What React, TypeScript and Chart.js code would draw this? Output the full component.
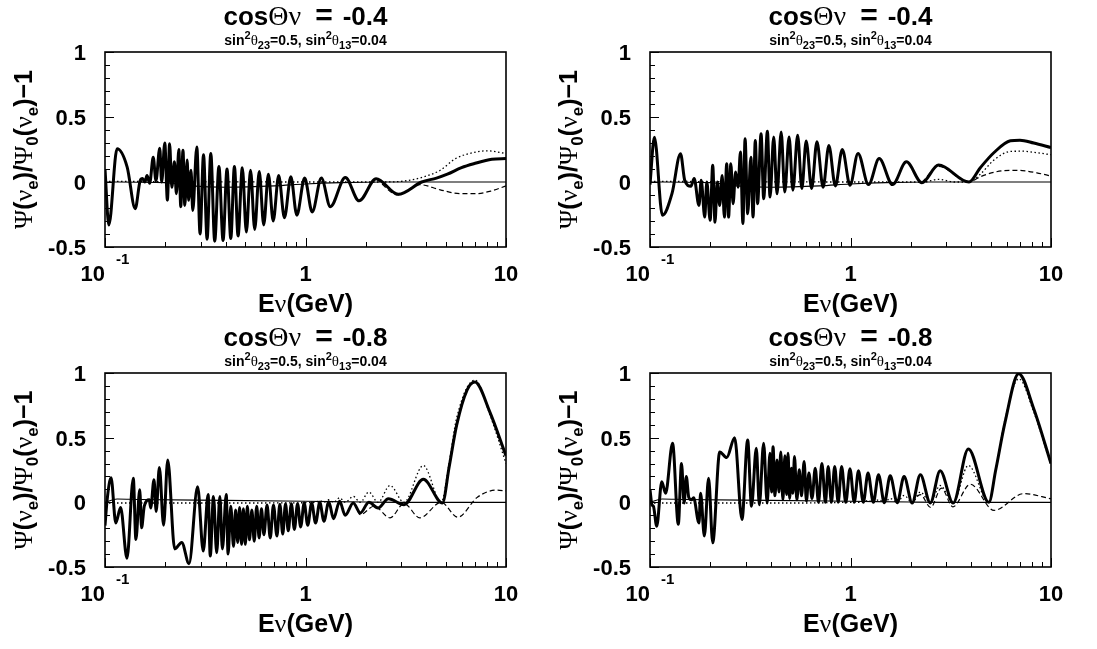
import React, { useEffect, useRef } from "react";
import { Chart, registerables } from "chart.js";

Chart.register(...registerables);

type Pt = [number, number];

// ---------------- data (E in GeV, value of Psi/Psi0 - 1) ----------------
const TITLES = ["-0.4", "-0.4", "-0.8", "-0.8"];
const Y_TICK_VALUES = [-0.5, 0, 0.5, 1];
const Y_TICK_LABELS = ["-0.5", "0", "0.5", "1"];
const X_TICK_VALUES = [0.1, 1, 10];

// top-left panel (cos = -0.4)
const TL_SOLID: Pt[] = [
  [0.1, 0.1], [0.1045, -0.33], [0.1149, 0.256], [0.129, 0.115], [0.1415, -0.205],
  [0.1496, 0.008], [0.154, 0.026], [0.158, 0.0], [0.162, 0.05], [0.167, -0.01],
  [0.174, 0.19], [0.1795, 0.01], [0.1875, 0.26], [0.1917, 0.0], [0.1987, 0.3],
  [0.2047, -0.14], [0.21, 0.295], [0.2154, -0.04], [0.222, 0.155], [0.227, -0.09],
  [0.2335, 0.25], [0.2387, -0.19], [0.2449, 0.245], [0.25, -0.18], [0.257, 0.17],
  [0.261, -0.14], [0.2685, 0.09], [0.274, -0.22], [0.287, 0.27], [0.298, -0.4],
  [0.31, 0.21], [0.323, -0.44], [0.337, 0.22], [0.3525, -0.455], [0.37, 0.12],
  [0.388, -0.45], [0.406, 0.1], [0.424, -0.435], [0.442, 0.12], [0.461, -0.415],
  [0.484, 0.11], [0.507, -0.385], [0.532, 0.09], [0.558, -0.365], [0.588, 0.08],
  [0.619, -0.33], [0.653, 0.06], [0.69, -0.3], [0.735, 0.05], [0.785, -0.275],
  [0.845, 0.04], [0.905, -0.255], [0.99, 0.03], [1.08, -0.23], [1.2, 0.03],
  [1.33, -0.19], [1.58, 0.035], [1.85, -0.145], [2.25, 0.025], [2.9, -0.095],
  [3.8, 0.0], [4.5, 0.03], [5.1, 0.06], [6.0, 0.11], [6.9, 0.14], [8.5, 0.175], [10, 0.18],
];
const TL_DOTTED: Pt[] = [
  [0.1, 0.005], [0.3, 0.002], [1.0, 0.0], [2.5, 0.0], [3.2, 0.01], [3.9, 0.04],
  [4.7, 0.09], [5.6, 0.18], [6.9, 0.227], [8.0, 0.24], [10, 0.22],
];
const TL_DASHED: Pt[] = [
  [2.25, 0.025], [2.9, -0.1], [3.7, -0.02], [4.7, -0.06], [5.9, -0.09], [7.0, -0.09],
  [8.4, -0.07], [10, -0.03],
];

// top-right panel (cos = -0.4)
const TR_SOLID: Pt[] = [
  [0.1, -0.02], [0.1052, 0.345], [0.1153, -0.256], [0.1287, -0.09], [0.142, 0.218],
  [0.149, 0.013], [0.16, -0.033], [0.166, 0.026], [0.1755, -0.18], [0.18, 0.013],
  [0.1875, -0.27], [0.192, 0.0], [0.1995, -0.295], [0.2055, 0.128], [0.211, -0.31],
  [0.2165, 0.0], [0.2227, -0.18], [0.229, 0.05], [0.235, -0.27], [0.2413, 0.14],
  [0.2466, -0.27], [0.253, 0.14], [0.2596, -0.167], [0.2673, 0.077], [0.275, -0.04],
  [0.2825, 0.23], [0.2907, -0.32], [0.298, 0.333], [0.307, -0.245], [0.3185, 0.19],
  [0.3266, -0.27], [0.335, 0.32], [0.344, -0.167], [0.358, 0.372], [0.369, -0.128],
  [0.385, 0.39], [0.397, -0.115], [0.414, 0.346], [0.43, -0.09], [0.451, 0.385],
  [0.47, -0.077], [0.494, 0.346], [0.516, -0.064], [0.545, 0.36], [0.572, -0.05],
  [0.601, 0.315], [0.64, -0.05], [0.68, 0.31], [0.73, -0.04], [0.78, 0.28],
  [0.84, -0.03], [0.91, 0.25], [0.995, -0.025], [1.09, 0.22], [1.23, -0.02],
  [1.39, 0.18], [1.62, -0.02], [1.9, 0.155], [2.27, -0.005], [2.75, 0.13],
  [3.9, 0.0], [4.44, 0.11], [5.2, 0.227], [6.27, 0.317], [7.0, 0.322], [8.2, 0.3], [10, 0.265],
];
const TR_DOTTED: Pt[] = [
  [0.1, 0.005], [0.3, 0.002], [1.0, 0.0], [2.3, 0.0], [2.75, 0.02], [3.3, 0.0], [3.9, 0.0],
  [4.44, 0.06], [5.2, 0.17], [6.27, 0.235], [7.2, 0.237], [8.5, 0.225], [10, 0.21],
];
const TR_DASHED: Pt[] = [
  [2.27, -0.005], [2.75, 0.12], [3.9, 0.0], [4.44, 0.04], [5.2, 0.075], [6.3, 0.09],
  [7.2, 0.088], [8.5, 0.07], [10, 0.046],
];

// bottom-left panel (cos = -0.8)
const BL_SOLID: Pt[] = [
  [0.1, -0.18], [0.1025, 0.02], [0.1072, 0.19], [0.1132, -0.16], [0.1196, -0.04],
  [0.1287, -0.433], [0.1384, 0.187], [0.1426, -0.287], [0.149, 0.097], [0.1522, -0.197],
  [0.157, -0.03], [0.1662, 0.02], [0.169, -0.044], [0.1755, 0.174], [0.18, -0.07],
  [0.1867, 0.27], [0.196, -0.177], [0.2055, 0.328], [0.2227, -0.36], [0.2413, -0.31],
  [0.2625, -0.474], [0.2897, 0.12], [0.309, -0.377], [0.3268, 0.06], [0.335, -0.415],
  [0.3475, 0.046], [0.3606, -0.39], [0.374, 0.046], [0.385, -0.36], [0.4025, 0.06],
  [0.411, -0.4], [0.424, -0.03], [0.4376, -0.34], [0.448, -0.06], [0.459, -0.31],
  [0.469, -0.04], [0.48, -0.325], [0.49, -0.05], [0.501, -0.325], [0.513, -0.03],
  [0.5255, -0.29], [0.54, -0.06], [0.555, -0.3], [0.571, -0.03], [0.587, -0.275],
  [0.603, -0.05], [0.62, -0.25], [0.643, -0.02], [0.667, -0.275], [0.692, -0.02],
  [0.72, -0.26], [0.745, -0.015], [0.77, -0.245], [0.795, -0.01], [0.82, -0.22],
  [0.85, -0.01], [0.88, -0.21], [0.913, -0.01], [0.946, -0.19], [0.985, -0.005],
  [1.026, -0.177], [1.073, -0.005], [1.123, -0.16], [1.178, 0.0], [1.236, -0.146],
  [1.306, 0.005], [1.38, -0.126], [1.48, 0.008], [1.578, -0.1], [1.73, -0.005],
  [1.875, -0.082], [2.07, 0.0], [2.3, -0.044], [2.59, 0.028], [3.1, -0.018],
  [3.87, 0.178], [4.82, -0.005], [5.2, 0.27], [5.67, 0.595], [6.4, 0.87], [7.0, 0.93],
  [8.3, 0.7], [10, 0.36],
];
const BL_DOTTED: Pt[] = [
  [0.1, -0.005], [0.6, -0.005], [1.0, -0.003], [1.123, 0.0], [1.178, 0.012], [1.236, 0.0],
  [1.306, 0.02], [1.38, 0.0], [1.48, 0.035], [1.578, 0.0], [1.73, 0.046], [1.875, 0.0],
  [2.07, 0.08], [2.3, 0.0], [2.64, 0.13], [3.1, 0.0], [3.87, 0.285], [4.75, 0.0],
  [5.2, 0.3], [5.67, 0.65], [7.0, 0.945], [8.3, 0.68], [10, 0.3],
];
const BL_DASHED: Pt[] = [
  [1.38, -0.126], [1.48, 0.0], [1.578, -0.1], [1.73, -0.005], [1.875, -0.095], [2.2, -0.03],
  [2.64, -0.12], [3.1, -0.01], [3.72, -0.12], [4.75, 0.0], [5.75, -0.115], [7.2, 0.04],
  [9.0, 0.095], [10, 0.088],
];

// bottom-right panel (cos = -0.8)
const BR_SOLID: Pt[] = [
  [0.1, 0.1], [0.1023, -0.02], [0.104, -0.03], [0.108, -0.185], [0.1145, 0.16],
  [0.1196, 0.07], [0.1296, 0.456], [0.1384, -0.17], [0.1436, 0.3], [0.148, -0.005],
  [0.1517, 0.2], [0.156, 0.04], [0.161, 0.02], [0.165, 0.035], [0.1755, -0.16],
  [0.1788, 0.07], [0.1867, -0.26], [0.196, 0.187], [0.2055, -0.313], [0.2227, 0.39],
  [0.2413, 0.346], [0.2643, 0.5], [0.2875, -0.133], [0.307, 0.482], [0.3208, -0.03],
  [0.339, 0.418], [0.351, -0.018], [0.3687, 0.456], [0.384, -0.005], [0.3966, 0.38],
  [0.404, 0.08], [0.411, 0.43], [0.42, 0.05], [0.43, 0.328], [0.44, 0.08], [0.449, 0.39],
  [0.46, 0.02], [0.471, 0.36], [0.48, 0.06], [0.488, 0.379], [0.497, 0.03], [0.507, 0.264],
  [0.516, 0.07], [0.5255, 0.354], [0.54, 0.02], [0.555, 0.251], [0.57, 0.05], [0.587, 0.315],
  [0.603, 0.01], [0.62, 0.226], [0.643, 0.03], [0.667, 0.264], [0.692, 0.0], [0.72, 0.3],
  [0.75, 0.0], [0.774, 0.277], [0.803, 0.0], [0.834, 0.277], [0.868, 0.0], [0.903, 0.277],
  [0.947, 0.0], [0.994, 0.26], [1.044, 0.0], [1.096, 0.244], [1.158, 0.0], [1.223, 0.226],
  [1.3, 0.0], [1.38, 0.213], [1.475, -0.003], [1.578, 0.205], [1.71, -0.003], [1.85, 0.2],
  [2.03, -0.005], [2.23, 0.213], [2.5, -0.005], [2.8, 0.244], [3.25, -0.005], [3.87, 0.413],
  [4.9, 0.0], [5.3, 0.25], [5.9, 0.62], [6.9, 0.995], [8.2, 0.724], [10, 0.3],
];
const BR_DOTTED: Pt[] = [
  [0.1, -0.005], [0.6, -0.005], [1.0, 0.0], [1.158, 0.0], [1.223, 0.015], [1.3, 0.0],
  [1.38, 0.02], [1.475, 0.0], [1.578, 0.03], [1.71, 0.0], [1.85, 0.054], [2.03, 0.0],
  [2.23, 0.08], [2.5, 0.0], [2.8, 0.13], [3.25, 0.0], [3.87, 0.285], [4.9, 0.0],
  [5.3, 0.25], [5.9, 0.64], [6.9, 0.955], [8.2, 0.7], [10, 0.286],
];
const BR_DASHED: Pt[] = [
  [2.03, -0.005], [2.23, 0.06], [2.51, -0.04], [2.84, 0.11], [3.24, -0.035], [3.96, 0.14],
  [5.2, -0.062], [7.3, 0.067], [10, 0.028],
];

// thin near-zero reference curves
const TOP_THIN: Pt[] = [
  [0.1, 0.0], [0.2, -0.005], [0.27, -0.03], [0.4, -0.04], [0.7, -0.03], [1.0, -0.015],
  [1.5, -0.005], [2.5, 0.0], [10, 0.0],
];
const BOTTOM_THIN: Pt[] = [
  [0.1, 0.0], [0.115, 0.026], [0.15, 0.022], [0.4, 0.015], [1.0, 0.008], [2.0, 0.002],
  [3.0, 0.0], [10, 0.0],
];

const SERIES = [
  { solid: TL_SOLID, dotted: TL_DOTTED, dashed: TL_DASHED, thin: TOP_THIN },
  { solid: TR_SOLID, dotted: TR_DOTTED, dashed: TR_DASHED, thin: TOP_THIN },
  { solid: BL_SOLID, dotted: BL_DOTTED, dashed: BL_DASHED, thin: BOTTOM_THIN },
  { solid: BR_SOLID, dotted: BR_DOTTED, dashed: BR_DASHED, thin: BOTTOM_THIN },
];

// ---------------- layout ----------------
const CANVASES = [
  { left: 0, top: 0, w: 548, h: 320 },
  { left: 545, top: 0, w: 552, h: 320 },
  { left: 0, top: 320, w: 548, h: 329 },
  { left: 545, top: 320, w: 552, h: 329 },
];
const FRAMES = [
  { x0: 105, x1: 506, y0: 52, y1: 247 },
  { x0: 650, x1: 1051, y0: 52, y1: 247 },
  { x0: 105, x1: 506, y0: 373, y1: 567 },
  { x0: 650, x1: 1051, y0: 373, y1: 567 },
];

const B = (n: number) => `bold ${n}px "Liberation Sans", Arial, Helvetica, sans-serif`;
const S = (n: number) => `${n}px "Liberation Serif", "DejaVu Serif", serif`;

type Seg = { t?: string; font?: string; dy?: number; gap?: number };

function richWidth(ctx: CanvasRenderingContext2D, segs: Seg[]) {
  let w = 0;
  for (const s of segs) {
    if (s.gap) { w += s.gap; continue; }
    ctx.font = s.font!;
    w += ctx.measureText(s.t!).width;
  }
  return w;
}
function drawRich(ctx: CanvasRenderingContext2D, segs: Seg[], x: number, y: number, align: "left" | "center" | "right") {
  const w = richWidth(ctx, segs);
  let cx = align === "center" ? x - w / 2 : align === "right" ? x - w : x;
  ctx.textAlign = "left";
  ctx.textBaseline = "alphabetic";
  for (const s of segs) {
    if (s.gap) { cx += s.gap; continue; }
    ctx.font = s.font!;
    ctx.fillText(s.t!, cx, y + (s.dy || 0));
    cx += ctx.measureText(s.t!).width;
  }
}

function makeOverlay(title: string) {
  return {
    id: "rootFrame",
    afterDatasetsDraw(chart: any) {
      const { ctx, chartArea: a, scales } = chart;
      const xs = scales.x, ys = scales.y;
      ctx.save();
      ctx.fillStyle = "#000";
      ctx.strokeStyle = "#000";
      // frame
      ctx.lineWidth = 1.6;
      ctx.strokeRect(a.left, a.top, a.right - a.left, a.bottom - a.top);
      // y ticks
      ctx.lineWidth = 1;
      for (let i = 0; i <= 15; i++) {
        const v = -0.5 + i * 0.1;
        const py = Math.round(ys.getPixelForValue(v)) + 0.5;
        const len = i % 5 === 0 ? 9 : 5;
        ctx.beginPath();
        ctx.moveTo(a.left, py);
        ctx.lineTo(a.left + len, py);
        ctx.stroke();
      }
      // x ticks (log)
      const xt: { e: number; major: boolean }[] = [];
      for (const d of [0.1, 1]) for (let k = 1; k <= 9; k++) xt.push({ e: k * d, major: k === 1 });
      xt.push({ e: 10, major: true });
      for (const t of xt) {
        const px = Math.round(xs.getPixelForValue(t.e)) + 0.5;
        const len = t.major ? 9 : 5;
        ctx.beginPath();
        ctx.moveTo(px, a.bottom);
        ctx.lineTo(px, a.bottom - len);
        ctx.stroke();
      }
      // y tick labels
      Y_TICK_VALUES.forEach((v, i) => {
        const py = ys.getPixelForValue(v);
        drawRich(ctx, [{ t: Y_TICK_LABELS[i], font: B(22) }], a.left - 19, py + 8, "right");
      });
      // x tick labels
      X_TICK_VALUES.forEach((e) => {
        const px = xs.getPixelForValue(e);
        const segs: Seg[] =
          e === 0.1
            ? [{ t: "10", font: B(22) }, { gap: 11 }, { t: "-1", font: B(15), dy: -17 }]
            : [{ t: e === 1 ? "1" : "10", font: B(22) }];
        drawRich(ctx, segs, px, a.bottom + 34, "center");
      });
      const cxm = (a.left + a.right) / 2;
      // x title
      drawRich(ctx, [{ t: "E", font: B(25) }, { t: "\u03BD", font: S(26) }, { t: "(GeV)", font: B(25) }], cxm, a.bottom + 65, "center");
      // title
      drawRich(
        ctx,
        [
          { t: "cos", font: B(26) }, { t: "\u0398\u03BD", font: S(28) }, { gap: 14 },
          { t: "=", font: B(30) }, { gap: 10 }, { t: title, font: B(26) },
        ],
        cxm, a.top - 27, "center"
      );
      // subtitle
      drawRich(
        ctx,
        [
          { t: "sin", font: B(14) }, { t: "2", font: B(11), dy: -6 }, { t: "\u03B8", font: S(15) },
          { t: "23", font: B(11), dy: 4 }, { t: "=0.5, sin", font: B(14) }, { t: "2", font: B(11), dy: -6 },
          { t: "\u03B8", font: S(15) }, { t: "13", font: B(11), dy: 4 }, { t: "=0.04", font: B(14) },
        ],
        cxm, a.top - 7, "center"
      );
      // y title (rotated)
      ctx.save();
      ctx.translate(a.left - 73, (a.top + a.bottom) / 2);
      ctx.rotate(-Math.PI / 2);
      drawRich(
        ctx,
        [
          { t: "\u03A8", font: S(26) }, { t: "(", font: B(25) }, { t: "\u03BD", font: S(26) },
          { t: "e", font: B(17), dy: 6 }, { t: ")/", font: B(25) }, { t: "\u03A8", font: S(26) },
          { t: "0", font: B(17), dy: 6 }, { t: "(", font: B(25) }, { t: "\u03BD", font: S(26) },
          { t: "e", font: B(17), dy: 6 }, { t: ")\u22121", font: B(25) },
        ],
        0, 0, "center"
      );
      ctx.restore();
      ctx.restore();
    },
  };
}

function toXY(pts: Pt[]) {
  return pts.map(([x, y]) => ({ x, y }));
}

function Panel({ idx }: { idx: number }) {
  const ref = useRef<HTMLCanvasElement>(null);
  const cv = CANVASES[idx];
  const fr = FRAMES[idx];
  useEffect(() => {
    const s = SERIES[idx];
    const chart = new Chart(ref.current!, {
      type: "line",
      data: {
        datasets: [
          { data: toXY(s.solid), borderColor: "#000", borderWidth: 3, cubicInterpolationMode: "monotone" },
          { data: toXY(s.dashed), borderColor: "#000", borderWidth: 1.2, borderDash: [5, 3], cubicInterpolationMode: "monotone" },
          { data: toXY(s.dotted), borderColor: "#000", borderWidth: 1.3, borderDash: [1.5, 2.5], cubicInterpolationMode: "monotone" },
          { data: toXY(s.thin), borderColor: "#000", borderWidth: 1.1, cubicInterpolationMode: "monotone" },
        ] as any,
      },
      options: {
        responsive: false,
        maintainAspectRatio: false,
        animation: false,
        events: [],
        parsing: false,
        layout: {
          padding: {
            left: fr.x0 - cv.left,
            right: cv.left + cv.w - fr.x1,
            top: fr.y0 - cv.top,
            bottom: cv.top + cv.h - fr.y1,
          },
        },
        elements: { point: { radius: 0 }, line: { fill: false, borderJoinStyle: "round" } },
        plugins: { legend: { display: false }, tooltip: { enabled: false }, title: { display: false } },
        scales: {
          x: { type: "logarithmic", min: 0.1, max: 10, display: false },
          y: { type: "linear", min: -0.5, max: 1, display: false },
        },
      } as any,
      plugins: [makeOverlay(TITLES[idx])],
    });
    return () => chart.destroy();
  }, [idx]);
  return (
    <canvas
      ref={ref}
      width={cv.w}
      height={cv.h}
      style={{ position: "absolute", left: cv.left, top: cv.top, width: cv.w, height: cv.h }}
    />
  );
}

export default function App() {
  return (
    <div style={{ position: "absolute", left: 0, top: 0, width: 1097, height: 649, background: "#fff" }}>
      {[0, 1, 2, 3].map((i) => (
        <Panel key={i} idx={i} />
      ))}
    </div>
  );
}
